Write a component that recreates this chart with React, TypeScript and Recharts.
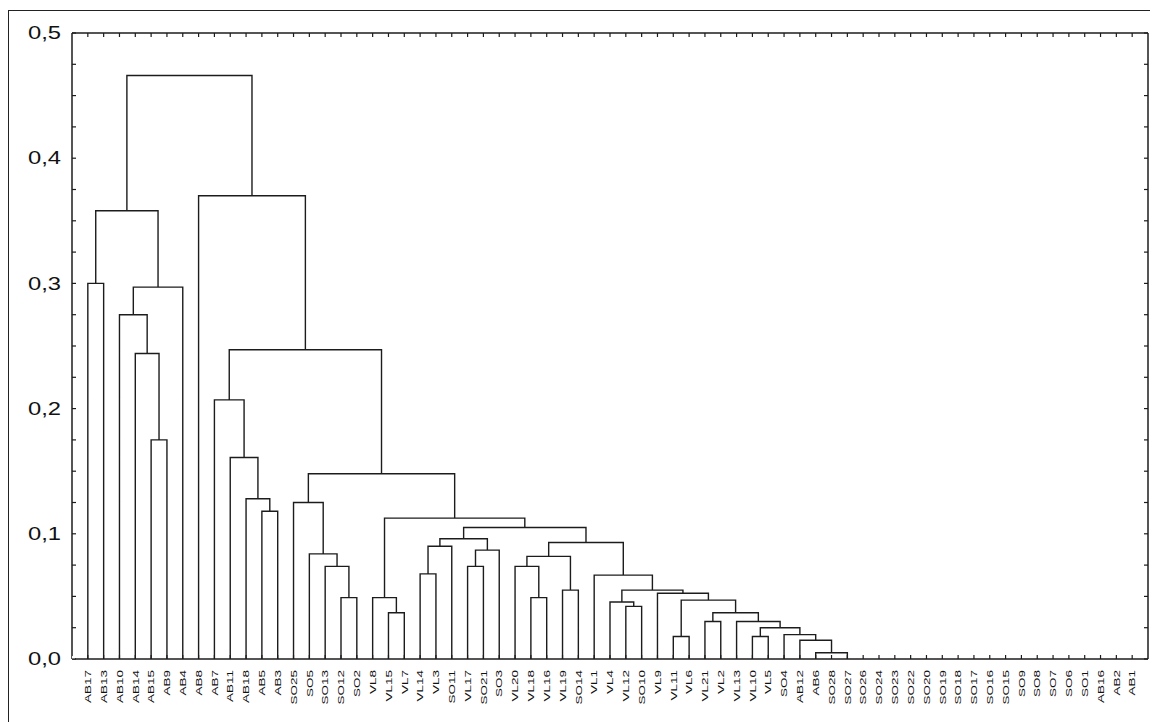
import { LineChart, Line, XAxis, YAxis } from 'recharts';

// leaf order along the bottom of the tree
const LEAVES = [
  'AB17', 'AB13', 'AB10', 'AB14', 'AB15', 'AB9', 'AB4', 'AB8', 'AB7', 'AB11', 'AB18', 'AB5', 'AB3',
  'SO25', 'SO5', 'SO13', 'SO12', 'SO2', 'VL8', 'VL15', 'VL7', 'VL14', 'VL3', 'SO11', 'VL17', 'SO21',
  'SO3', 'VL20', 'VL18', 'VL16', 'VL19', 'SO14', 'VL1', 'VL4', 'VL12', 'SO10', 'VL9', 'VL11', 'VL6',
  'VL21', 'VL2', 'VL13', 'VL10', 'VL5', 'SO4', 'AB12', 'AB6', 'SO28', 'SO27', 'SO26', 'SO24', 'SO23',
  'SO22', 'SO20', 'SO19', 'SO18', 'SO17', 'SO16', 'SO15', 'SO9', 'SO8', 'SO7', 'SO6', 'SO1', 'AB16',
  'AB2', 'AB1',
];

// merges: [left, right, linkage distance]; a number refers to an earlier merge row
const MERGES: [string | number, string | number, number][] = [
  ['AB15', 'AB9', 0.175],   // 0
  ['AB14', 0, 0.244],       // 1
  ['AB10', 1, 0.275],       // 2
  [2, 'AB4', 0.297],        // 3
  ['AB17', 'AB13', 0.3],    // 4
  [4, 3, 0.358],            // 5
  ['AB5', 'AB3', 0.118],    // 6
  ['AB18', 6, 0.128],       // 7
  ['AB11', 7, 0.161],       // 8
  ['AB7', 8, 0.207],        // 9
  ['SO12', 'SO2', 0.049],   // 10
  ['SO13', 10, 0.074],      // 11
  ['SO5', 11, 0.084],       // 12
  ['SO25', 12, 0.125],      // 13
  ['VL15', 'VL7', 0.037],   // 14
  ['VL8', 14, 0.049],       // 15
  ['VL14', 'VL3', 0.068],   // 16
  [16, 'SO11', 0.09],       // 17
  ['VL17', 'SO21', 0.074],  // 18
  [18, 'SO3', 0.087],       // 19
  [17, 19, 0.096],          // 20
  ['VL18', 'VL16', 0.049],  // 21
  ['VL20', 21, 0.074],      // 22
  ['VL19', 'SO14', 0.055],  // 23
  [22, 23, 0.082],          // 24
  ['AB6', 'SO27', 0.005],   // 25
  ['AB12', 25, 0.015],      // 26
  ['SO4', 26, 0.0195],      // 27
  ['VL10', 'VL5', 0.018],   // 28
  [28, 27, 0.025],          // 29
  ['VL13', 29, 0.03],       // 30
  ['VL21', 'VL2', 0.03],    // 31
  [31, 30, 0.037],          // 32
  ['VL11', 'VL6', 0.018],   // 33
  [33, 32, 0.047],          // 34
  ['VL9', 34, 0.0525],      // 35
  ['VL12', 'SO10', 0.042],  // 36
  ['VL4', 36, 0.0455],      // 37
  [37, 35, 0.055],          // 38
  ['VL1', 38, 0.067],       // 39
  [24, 39, 0.093],          // 40
  [20, 40, 0.105],          // 41
  [15, 41, 0.1125],         // 42
  [13, 42, 0.148],          // 43
  [9, 43, 0.247],           // 44
  ['AB8', 44, 0.37],        // 45
  [5, 45, 0.466],           // 46
];

const Y_LABELLED = [0, 0.1, 0.2, 0.3, 0.4, 0.5];
const Y_TICKS = [0, 0.025, 0.05, 0.075, 0.1, 0.125, 0.15, 0.175, 0.2, 0.225, 0.25, 0.275, 0.3, 0.325, 0.35, 0.375, 0.4, 0.425, 0.45, 0.475, 0.5];

const LEAF_POS = LEAVES.map((_, i) => i + 1);
const INK = '#1c1c1c';
const FONT = '"Liberation Sans", Arial, sans-serif';

// turn merge rows into U-shaped link paths, broken by nulls
function buildLinks() {
  const pos: number[] = [];
  const hgt: number[] = [];
  const at = (c: string | number) => (typeof c === 'number' ? [pos[c], hgt[c]] : [LEAVES.indexOf(c) + 1, 0]);
  const pts: { x: number; y: number | null }[] = [];
  MERGES.forEach(([a, b, h], i) => {
    const [xa, ya] = at(a);
    const [xb, yb] = at(b);
    pos[i] = (xa + xb) / 2;
    hgt[i] = h;
    pts.push({ x: xa, y: ya }, { x: xa, y: h }, { x: xb, y: h }, { x: xb, y: yb }, { x: xb, y: null });
  });
  return pts;
}

const links = buildLinks();

const LeftTick = (p: any) => {
  const { x, y, payload } = p;
  const v = payload.value;
  const show = Y_LABELLED.some((l) => Math.abs(l - v) < 1e-6);
  return (
    <g>
      <line x1={x} x2={x + 4} y1={y} y2={y} stroke={INK} strokeWidth={1.2} />
      {show && (
        <text transform={`translate(${x - 11},${y}) scale(1.25,1)`} textAnchor="end" dominantBaseline="central" fontSize={19} fontFamily={FONT} fill="#111">
          {v.toFixed(1).replace('.', ',')}
        </text>
      )}
    </g>
  );
};

const RightTick = (p: any) => <line x1={p.x} x2={p.x - 4} y1={p.y} y2={p.y} stroke={INK} strokeWidth={1.2} />;
const TopTick = (p: any) => <line x1={p.x} x2={p.x} y1={p.y} y2={p.y + 4} stroke={INK} strokeWidth={1.2} />;

const BottomTick = (p: any) => {
  const { x, y, payload } = p;
  return (
    <g>
      <line x1={x} x2={x} y1={y} y2={y - 4} stroke={INK} strokeWidth={1.2} />
      <text transform={`translate(${x},${y + 11}) rotate(-90) scale(1.45,1)`} textAnchor="end" dominantBaseline="central" fontSize={9.3} fontFamily={FONT} fill="#111">
        {LEAVES[payload.value - 1]}
      </text>
    </g>
  );
};

export default function App() {
  return (
    <div style={{ position: 'relative', width: 1150, height: 714, overflow: 'hidden', background: '#fff' }}>
      <div style={{ position: 'absolute', left: 0, top: 2, width: 1170, height: 740, border: '1.5px solid #222', boxSizing: 'border-box' }} />
      <LineChart width={1150} height={714} margin={{ top: 24, right: 0, left: 0, bottom: 0 }}>
        <XAxis dataKey="x" type="number" domain={[0, 68]} ticks={LEAF_POS} interval={0} height={63} tickSize={0} tickMargin={0} tickLine={false} tick={<BottomTick />} axisLine={{ stroke: INK, strokeWidth: 1.5 }} allowDataOverflow />
        <XAxis xAxisId="t" dataKey="x" type="number" orientation="top" domain={[0, 68]} ticks={LEAF_POS} interval={0} height={1} tickSize={0} tickMargin={0} tickLine={false} tick={<TopTick />} axisLine={{ stroke: INK, strokeWidth: 1.5 }} allowDataOverflow />
        <YAxis type="number" domain={[0, 0.5]} ticks={Y_TICKS} interval={0} width={64} tickSize={0} tickMargin={0} tickLine={false} tick={<LeftTick />} axisLine={{ stroke: INK, strokeWidth: 1.5 }} allowDataOverflow />
        <YAxis yAxisId="r" type="number" orientation="right" domain={[0, 0.5]} ticks={Y_TICKS} interval={0} width={10} tickSize={0} tickMargin={0} tickLine={false} tick={<RightTick />} axisLine={{ stroke: INK, strokeWidth: 1.5 }} allowDataOverflow />
        <Line data={links} dataKey="y" type="linear" stroke={INK} strokeWidth={1.4} dot={false} activeDot={false} connectNulls={false} isAnimationActive={false} />
        <Line xAxisId="t" yAxisId="r" data={[{ x: 0, y: 0 }]} dataKey="y" stroke="none" dot={false} activeDot={false} isAnimationActive={false} />
      </LineChart>
    </div>
  );
}
